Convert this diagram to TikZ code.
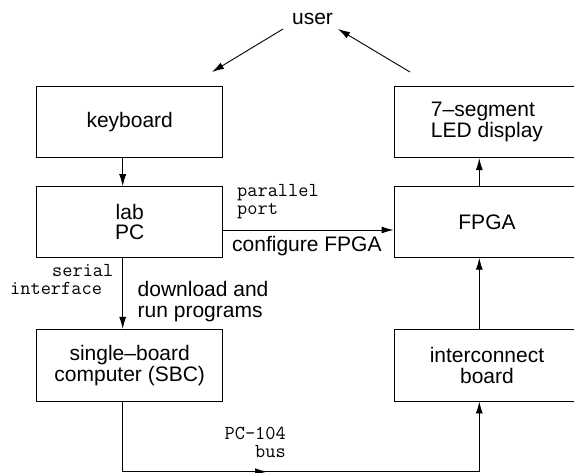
\documentclass[tikz,border=0pt]{standalone}
\usepackage{fontspec}
\setmainfont{Liberation Sans}
\usetikzlibrary{arrows.meta}
\tikzset{
  box/.style={draw, line width=0.9pt, minimum width=186pt, inner sep=0pt, align=center,
    font=\fontsize{21}{20.8}\selectfont},
  lbl/.style={inner sep=0pt, font=\fontsize{21}{20.8}\selectfont},
  ttl/.style={inner sep=0pt, font=\fontsize{19.8}{18}\selectfont\ttfamily},
  wire/.style={line width=0.9pt},
  conn/.style={line width=0.9pt, -{Latex[length=12pt,width=7pt]}},
}
\begin{document}
\begin{tikzpicture}[x=1pt,y=-1pt]
\useasboundingbox (0,0) rectangle (574,473);
% boxes
\node[box, minimum height=71pt] (kb) at (129.7,122.2) {keyboard};
\node[box, minimum height=70.6pt] (pc) at (129.7,222) {lab\\PC};
\node[box, minimum height=71.7pt] (sbc) at (129.7,365.2) {single–board\\computer (SBC)};
\node[box, minimum height=71pt, align=left] (seg) at (487,122.2) {7–segment\\LED display};
\node[box, minimum height=70.6pt] (fpga) at (487,222) {FPGA};
\node[box, minimum height=71.7pt] (ic) at (487,365.2) {interconnect\\board};
% user
\node[lbl] (user) at (312.5,19) {user};
\coordinate (u1) at (283,29);
\coordinate (u2) at (212,72);
\coordinate (u3) at (410,72);
\coordinate (u4) at (338,29);
\draw[conn] (u1) -- (u2);
\draw[conn] (u3) -- (u4);
% connectors
\draw[conn] ([xshift=-7pt]kb.south) -- ([xshift=-7pt]pc.north);
\draw[conn] ([xshift=-7pt]pc.south) -- ([xshift=-7pt]sbc.north);
\draw[conn] ([yshift=-8pt]pc.east) -- ([yshift=-8pt]fpga.west);
\draw[conn] ([xshift=-7.7pt]fpga.north) -- ([xshift=-7.7pt]seg.south);
\draw[conn] ([xshift=-7.7pt]ic.north) -- ([xshift=-7.7pt]fpga.south);
\coordinate (b1) at (122.7,471.7);
\coordinate (b2) at (479.3,471.7);
\coordinate (bm) at (267,471.7);
\draw[wire] ([xshift=-7pt]sbc.south) -- (b1) -- (b2);
\draw[conn] (b1) -- (bm);
\draw[conn] (b2) -- ([xshift=-7.7pt]ic.south);
% labels
\node[ttl, anchor=base west] (par1) at (237,197) {parallel};
\node[ttl, anchor=base west] (par2) at (237,215) {port};
\node[lbl, anchor=base west] (cfg) at (232,252) {configure FPGA};
\node[ttl, anchor=base west] (ser1) at (52,277) {serial};
\node[ttl, anchor=base west] (ser2) at (10,295) {interface};
\node[lbl, anchor=base west, align=left] (dl) at (137.5,317.3) {download and\\run programs};
\node[ttl, anchor=base east] (bus1) at (286,440) {PC\textendash 104};
\node[ttl, anchor=base east] (bus2) at (286,458) {bus};
\end{tikzpicture}
\end{document}
